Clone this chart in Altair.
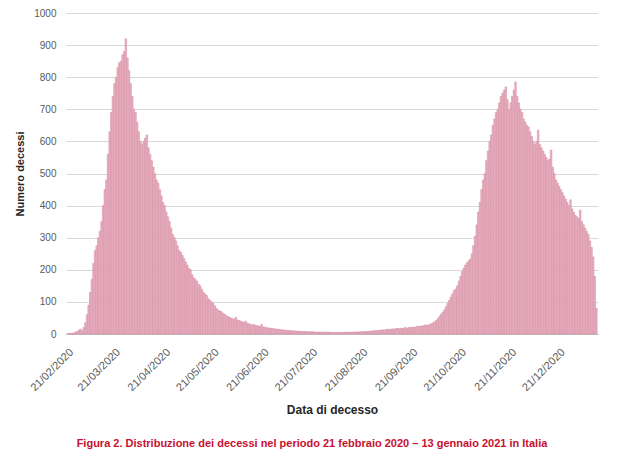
import altair as alt
import pandas as pd
import datetime as dt

# Daily deaths by date of death (21/02/2020 - 13/01/2021)
feb_2020 = [1, 1, 2, 3, 3, 6, 8, 12, 15]
mar_2020 = [10, 20, 35, 60, 90, 130, 170, 220, 260, 275, 300, 320, 350, 400, 450,
            480, 560, 630, 690, 740, 780, 800, 830, 845, 850, 870, 880, 920, 860, 820, 780]
apr_2020 = [740, 700, 690, 660, 630, 600, 590, 600, 610, 620, 580, 560, 540, 520, 500,
            480, 470, 450, 430, 410, 400, 380, 365, 350, 330, 310, 300, 290, 275, 260]
may_2020 = [255, 245, 235, 225, 215, 205, 200, 185, 175, 170, 165, 155, 150, 140, 130,
            125, 120, 110, 105, 100, 95, 88, 80, 75, 72, 70, 65, 62, 58, 55, 52]
jun_2020 = [50, 48, 46, 52, 44, 42, 40, 38, 36, 40, 34, 32, 30, 28, 30,
            27, 26, 25, 24, 30, 22, 21, 20, 19, 18, 18, 17, 16, 15, 15]
jul_2020 = [14, 13, 13, 12, 12, 11, 11, 10, 10, 10, 9, 9, 9, 8, 8, 8,
            8, 7, 7, 7, 7, 7, 6, 6, 6, 6, 6, 6, 6, 6, 6]
aug_2020 = [6, 5, 5, 5, 5, 5, 5, 5, 5, 6, 5, 6, 6, 5, 6, 6,
            6, 7, 6, 7, 7, 8, 7, 8, 8, 9, 9, 10, 10, 11, 11]
sep_2020 = [12, 12, 13, 12, 14, 15, 14, 15, 16, 15, 17, 18, 16, 18, 17,
            19, 20, 18, 20, 21, 20, 22, 21, 24, 23, 25, 24, 26, 28, 27]
oct_2020 = [28, 30, 32, 35, 38, 42, 48, 55, 62, 68, 75, 85, 95, 105, 115, 125,
            135, 140, 150, 165, 180, 195, 205, 215, 222, 228, 234, 250, 275, 305, 340]
nov_2020 = [380, 410, 450, 480, 500, 540, 570, 600, 620, 650, 670, 690, 700, 720, 740,
            750, 760, 770, 730, 700, 720, 740, 760, 785, 740, 720, 700, 690, 670, 660]
dec_2020 = [650, 645, 630, 615, 600, 590, 600, 635, 590, 580, 570, 560, 550, 540, 545,
            573, 520, 500, 480, 470, 460, 450, 440, 430, 420, 410, 400, 418, 390, 380, 370]
jan_2021 = [365, 360, 386, 350, 340, 330, 320, 310, 290, 270, 240, 180, 80]

tick_labels = ["21/02/2020", "21/03/2020", "21/04/2020", "21/05/2020", "21/06/2020",
               "21/07/2020", "21/08/2020", "21/09/2020", "21/10/2020", "21/11/2020",
               "21/12/2020"]

values = (feb_2020 + mar_2020 + apr_2020 + may_2020 + jun_2020 + jul_2020 + aug_2020
          + sep_2020 + oct_2020 + nov_2020 + dec_2020 + jan_2021)
start = dt.date(2020, 2, 21)
dates = [(start + dt.timedelta(days=i)).strftime("%d/%m/%Y") for i in range(len(values))]

df = pd.DataFrame({"data": dates, "decessi": values})

FONT = "Liberation Sans, Arial, sans-serif"

chart = alt.Chart(df).mark_bar(
    color="#eab3c2", stroke="#d28aa0", strokeWidth=0.5
).encode(
    x=alt.X("data:O", sort=dates,
            scale=alt.Scale(paddingInner=0, paddingOuter=0.5),
            axis=alt.Axis(values=tick_labels, labelAngle=-45, ticks=False,
                          domain=True, domainColor="#bfbfbf", labelPadding=12,
                          labelFontSize=11, labelColor="#595959", labelFont=FONT,
                          title="Data di decesso", titleFont=FONT, titleFontSize=12,
                          titleFontWeight="bold", titleColor="#262626", titlePadding=12)),
    y=alt.Y("decessi:Q",
            scale=alt.Scale(domain=[0, 1000]),
            axis=alt.Axis(values=list(range(0, 1001, 100)), format="d", ticks=False,
                          domain=False, gridColor="#d9d9d9", labelPadding=10,
                          labelFontSize=10, labelColor="#595959", labelFont=FONT,
                          title="Numero decessi", titleFont=FONT, titleFontSize=11,
                          titleFontWeight="bold", titleColor="#262626", titlePadding=8)),
).properties(
    width=532, height=321,
    autosize=alt.AutoSizeParams(type="none"),
    padding={"left": 58, "top": 5, "right": 24, "bottom": 119},
    title=alt.TitleParams(
        "Figura 2. Distribuzione dei decessi nel periodo 21 febbraio 2020 – 13 gennaio 2021 in Italia",
        orient="bottom", anchor="middle", fontSize=11, font=FONT, fontWeight="bold",
        color="#c8102e", offset=22, dx=-20),
).configure_view(stroke=None)

chart.save("out.html", embed_options={"renderer": "svg", "actions": False})
